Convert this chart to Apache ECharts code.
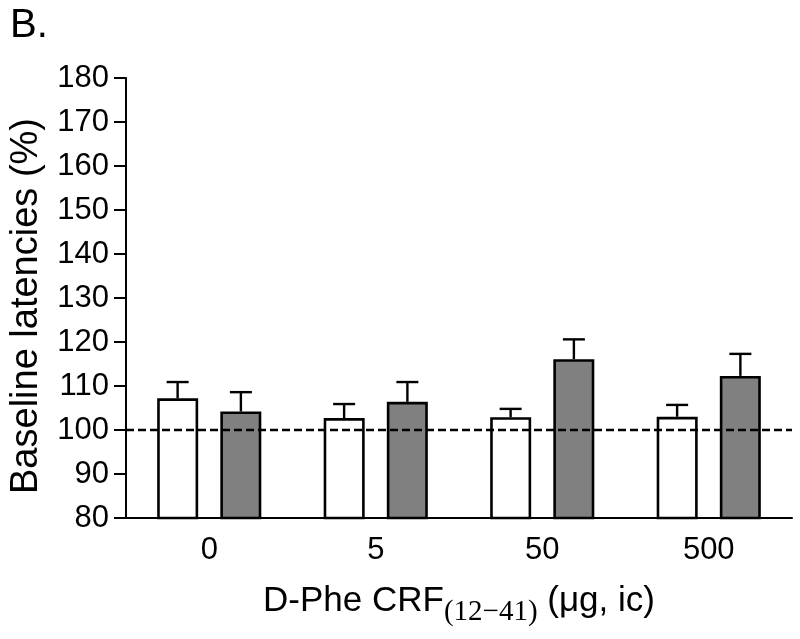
<!DOCTYPE html>
<html>
<head>
<meta charset="utf-8">
<script src="https://cdn.jsdelivr.net/npm/echarts@6/dist/echarts.min.js"></script>
<style>
html,body{margin:0;padding:0;background:#fff;}
#chart{width:800px;height:639px;}
</style>
</head>
<body>
<div id="chart"></div>
<script>
var categories = ['0', '5', '50', '500'];
var yTicks = [80, 90, 100, 110, 120, 130, 140, 150, 160, 170, 180];
var vehicleMean = [107.2, 102.7, 102.9, 103.0];
var vehicleSem = [3.7, 3.2, 1.9, 2.7];
var treatedMean = [104.2, 106.4, 116.1, 112.3];
var treatedSem = [4.4, 4.5, 4.5, 5.0];
var baseline = 100;

var FONT = 'Liberation Sans, Arial, sans-serif';

function errData(means, sems) {
  return means.map(function (m, i) { return [i, m, m + sems[i]]; });
}
function errRender(sign) {
  return function (params, api) {
    var cat = api.value(0);
    var top = api.coord([cat, api.value(1)]);
    var hi = api.coord([cat, api.value(2)]);
    var bw = api.size([1, 0])[0];
    var x = top[0] + sign * bw * 0.19;
    var half = 11;
    var st = { stroke: '#000', lineWidth: 2.4 };
    return {
      type: 'group',
      children: [
        { type: 'line', shape: { x1: x, y1: top[1], x2: x, y2: hi[1] }, style: st },
        { type: 'line', shape: { x1: x - half, y1: hi[1], x2: x + half, y2: hi[1] }, style: st }
      ]
    };
  };
}

var chart = echarts.init(document.getElementById('chart'));
chart.setOption({
  animation: false,
  backgroundColor: '#fff',
  title: {
    text: 'B.', left: 5, top: 1,
    textStyle: { fontFamily: FONT, fontSize: 40, fontWeight: 'normal', color: '#000' }
  },
  grid: { left: 125, right: 8, top: 78, bottom: 121, containLabel: false },
  xAxis: {
    type: 'category',
    data: categories,
    boundaryGap: true,
    axisLine: { lineStyle: { color: '#000', width: 2 } },
    axisTick: { alignWithLabel: true, length: 12, lineStyle: { color: '#000', width: 2 } },
    axisLabel: { fontFamily: FONT, fontSize: 31, color: '#000', margin: 17 },
    name: '{a|D-Phe CRF}{sub|(12\u221241)}{a| (\u03bcg, ic)}',
    nameLocation: 'middle',
    nameGap: 58,
    nameTextStyle: {
      rich: {
        a: { fontFamily: FONT, fontSize: 35, color: '#000' },
        sub: { fontFamily: 'Liberation Serif, Times New Roman, serif', fontSize: 29, color: '#000', padding: [22, 0, 0, 0] }
      }
    }
  },
  yAxis: {
    type: 'value',
    min: yTicks[0],
    max: yTicks[yTicks.length - 1],
    interval: yTicks[1] - yTicks[0],
    splitLine: { show: false },
    axisLine: { show: true, lineStyle: { color: '#000', width: 2 } },
    axisTick: { show: true, length: 12, lineStyle: { color: '#000', width: 2 } },
    axisLabel: { fontFamily: FONT, fontSize: 31, color: '#000', margin: 17 },
    name: 'Baseline latencies (%)',
    nameLocation: 'middle',
    nameGap: 80,
    nameTextStyle: { fontFamily: FONT, fontSize: 38, color: '#000', padding: [0, 16, 0, 0] }
  },
  series: [
    {
      type: 'bar', name: 'vehicle', data: vehicleMean,
      barWidth: 41, barGap: '54%',
      itemStyle: { color: '#fff', borderColor: '#000', borderWidth: 2.6 },
      markLine: {
        silent: true, symbol: 'none', label: { show: false },
        lineStyle: { color: '#000', width: 2.4, type: [8, 4] },
        data: [{ yAxis: baseline }]
      },
      z: 3
    },
    {
      type: 'bar', name: 'treated', data: treatedMean,
      barWidth: 41, barGap: '54%',
      itemStyle: { color: '#808080', borderColor: '#000', borderWidth: 2.6 },
      z: 3
    },
    {
      type: 'custom', data: errData(vehicleMean, vehicleSem),
      renderItem: errRender(-1), encode: { x: 0, y: [1, 2] }, z: 4
    },
    {
      type: 'custom', data: errData(treatedMean, treatedSem),
      renderItem: errRender(1), encode: { x: 0, y: [1, 2] }, z: 4
    }
  ]
});
</script>
</body>
</html>
